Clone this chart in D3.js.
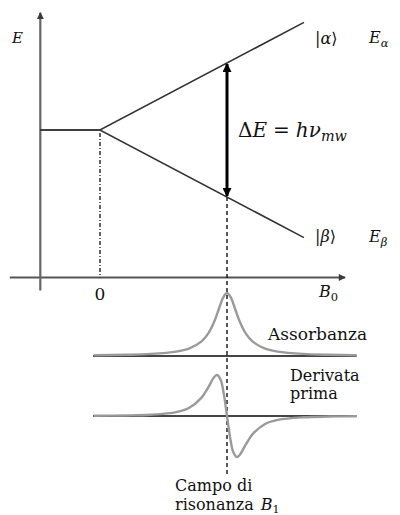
<!DOCTYPE html>
<html>
<head>
<meta charset="utf-8">
<script src="https://cdn.jsdelivr.net/npm/d3@7"></script>
<style>
  html, body { margin: 0; padding: 0; background: #fff; }
  svg { display: block; }
</style>
</head>
<body>
<svg id="chart" width="400" height="515"></svg>
<script>
// Zeeman splitting of the two spin levels versus field B0 (field in units of the resonance field)
const levelField  = [-0.47, 0, 1.606];      // B0 at the start, at the split and at the end of the levels
const levelAlpha  = [0, 0, 1.606];          // energy of |α⟩
const levelBeta   = [0, 0, -1.606];         // energy of |β⟩
const resonanceField = 1;                   // B1
const gapAlpha = 1, gapBeta = -1;           // level energies at B1 (ΔE = hν_mw)

// Absorption line (field, intensity)
const absField = [-0.05, 0.2, 0.4, 0.6, 0.7, 0.8, 0.85, 0.9, 0.94, 0.97, 1.0,
                  1.03, 1.06, 1.1, 1.15, 1.2, 1.3, 1.4, 1.6, 1.8, 2.02];
const absValue = [0.011, 0.019, 0.033, 0.07, 0.118, 0.232, 0.35, 0.548, 0.77, 0.93, 1.0,
                  0.93, 0.77, 0.548, 0.35, 0.232, 0.118, 0.07, 0.033, 0.019, 0.011];

// First derivative of the absorption line (field, signal)
const derField = [-0.05, 0.2, 0.4, 0.6, 0.7, 0.8, 0.85, 0.9, 0.922, 0.95, 0.975, 1.0,
                  1.025, 1.05, 1.078, 1.1, 1.15, 1.2, 1.3, 1.4, 1.6, 1.8, 2.02];
const derValue = [0.006, 0.014, 0.032, 0.095, 0.194, 0.447, 0.685, 0.95, 1.0, 0.882, 0.533, 0,
                  -0.533, -0.882, -1.0, -0.95, -0.685, -0.447, -0.194, -0.095, -0.032, -0.014, -0.006];

// Axis extents
const fieldAxis = [-0.6, 1.93];
const spectrumRange = [-0.055, 2.02];

const SERIF = "'DejaVu Serif', 'Liberation Serif', 'Times New Roman', serif";

const svg = d3.select("#chart");

const x = d3.scaleLinear().domain([0, 1]).range([100, 227]);
const yE = d3.scaleLinear().domain([0, 1]).range([130, 63]);
const yAbs = d3.scaleLinear().domain([0, 1]).range([356, 293]);
const yDer = d3.scaleLinear().domain([-1, 1]).range([457, 375]);

const defs = svg.append("defs");
function marker(id, color, w, h) {
  defs.append("marker")
    .attr("id", id).attr("viewBox", "0 0 10 10")
    .attr("refX", 9).attr("refY", 5)
    .attr("markerUnits", "userSpaceOnUse")
    .attr("markerWidth", w).attr("markerHeight", h)
    .attr("orient", "auto-start-reverse")
    .append("path").attr("d", "M0,0 L10,5 L0,10 Z").attr("fill", color);
}
marker("axisHead", "#3a3a3a", 9, 7);
marker("gapHead", "#000", 11, 9);

// Axes
const xAxisY = yE(-2.2);
svg.append("line")
  .attr("x1", x(fieldAxis[0]) - 14).attr("x2", x(fieldAxis[1]))
  .attr("y1", xAxisY).attr("y2", xAxisY)
  .attr("stroke", "#555").attr("stroke-width", 2)
  .attr("marker-end", "url(#axisHead)");
svg.append("line")
  .attr("x1", x(-0.47)).attr("x2", x(-0.47))
  .attr("y1", xAxisY + 13).attr("y2", yE(1.75))
  .attr("stroke", "#666").attr("stroke-width", 2.2)
  .attr("marker-end", "url(#axisHead)");

// Guide at zero field
svg.append("line")
  .attr("x1", x(0)).attr("x2", x(0))
  .attr("y1", yE(0) + 3).attr("y2", xAxisY)
  .attr("stroke", "#222").attr("stroke-width", 1.4)
  .attr("stroke-dasharray", "4,2,1,2");

// Guide at the resonance field
svg.append("line")
  .attr("x1", x(resonanceField)).attr("x2", x(resonanceField))
  .attr("y1", yE(gapBeta)).attr("y2", 474)
  .attr("stroke", "#111").attr("stroke-width", 1.4)
  .attr("stroke-dasharray", "4,3");

// Energy levels
const lvl = d3.line().x(d => x(d[0])).y(d => yE(d[1]));
svg.append("path").datum(d3.zip(levelField, levelAlpha)).attr("d", lvl)
  .attr("fill", "none").attr("stroke", "#333").attr("stroke-width", 1.6);
svg.append("path").datum(d3.zip(levelField, levelBeta)).attr("d", lvl)
  .attr("fill", "none").attr("stroke", "#333").attr("stroke-width", 1.6);

// Transition arrow
svg.append("line")
  .attr("x1", x(resonanceField)).attr("x2", x(resonanceField))
  .attr("y1", yE(gapAlpha) + 1).attr("y2", yE(gapBeta) - 1)
  .attr("stroke", "#000").attr("stroke-width", 3)
  .attr("marker-start", "url(#gapHead)")
  .attr("marker-end", "url(#gapHead)");

// Spectra
const sx0 = x(spectrumRange[0]), sx1 = x(spectrumRange[1]);
[yAbs(0), yDer(0)].forEach(yb => {
  svg.append("line").attr("x1", sx0).attr("x2", sx1)
    .attr("y1", yb).attr("y2", yb)
    .attr("stroke", "#444").attr("stroke-width", 2);
});
svg.append("path")
  .datum(d3.zip(absField, absValue))
  .attr("d", d3.line().x(d => x(d[0])).y(d => yAbs(d[1])).curve(d3.curveCatmullRom.alpha(0.5)))
  .attr("fill", "none").attr("stroke", "#9a9a9a").attr("stroke-width", 2.4);
svg.append("path")
  .datum(d3.zip(derField, derValue))
  .attr("d", d3.line().x(d => x(d[0])).y(d => yDer(d[1])).curve(d3.curveCatmullRom.alpha(0.5)))
  .attr("fill", "none").attr("stroke", "#9a9a9a").attr("stroke-width", 2.4);

// Labels
function mathText(px, py, size, parts) {
  const t = svg.append("text")
    .attr("font-family", SERIF)
    .attr("x", px).attr("y", py).attr("font-size", size).attr("fill", "#111");
  parts.forEach(p => {
    const s = t.append("tspan").text(p.t);
    if (p.i) s.attr("font-style", "italic");
    if (p.sub) s.attr("font-size", size * 0.72).attr("dy", size * 0.22);
    if (p.dx) s.attr("dx", p.dx);
  });
  return t;
}
mathText(12, 43, 15, [{ t: "E", i: true }]);
mathText(315, 44, 16, [{ t: "|" }, { t: "α", i: true }, { t: "⟩" }]);
mathText(369, 43, 16, [{ t: "E", i: true }, { t: "α", i: true, sub: true }]);
mathText(315, 242, 16, [{ t: "|" }, { t: "β", i: true }, { t: "⟩" }]);
mathText(369, 242, 16, [{ t: "E", i: true }, { t: "β", i: true, sub: true }]);
mathText(238, 137, 20, [{ t: "Δ" }, { t: "E", i: true }, { t: "=", dx: 6 },
  { t: "h", i: true, dx: 6 }, { t: "ν", i: true }, { t: "mw", i: true, sub: true }]);
mathText(319, 297, 16, [{ t: "B", i: true }, { t: "0", sub: true }]);
svg.append("text").attr("font-family", SERIF)
  .attr("x", x(0)).attr("y", 300).attr("text-anchor", "middle")
  .attr("font-size", 17).attr("fill", "#111").text("0");

function serifText(px, py, str, size) {
  return svg.append("text").attr("font-family", SERIF)
    .attr("x", px).attr("y", py).attr("font-size", size).attr("fill", "#111").text(str);
}
serifText(268, 340, "Assorbanza", 17);
serifText(290, 380.5, "Derivata", 16);
serifText(290, 399, "prima", 16);
serifText(175, 491, "Campo di", 16);
const ris = serifText(175, 509.5, "risonanza", 16);
ris.append("tspan").attr("dx", 7).attr("font-style", "italic")
  .attr("font-size", 16).text("B");
ris.append("tspan").attr("font-size", 11).attr("dy", 3).text("1");
</script>
</body>
</html>
